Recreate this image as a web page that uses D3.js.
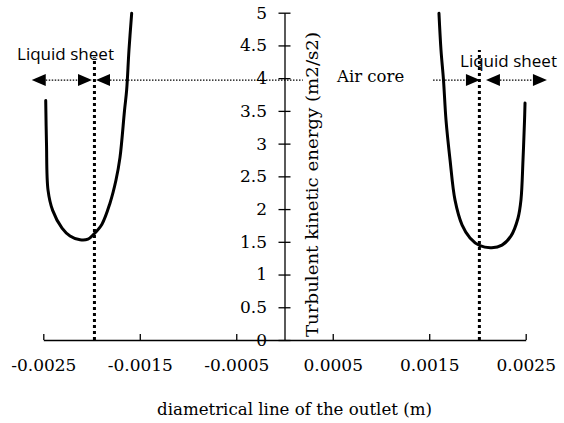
<!DOCTYPE html>
<html><head><meta charset="utf-8">
<script src="https://cdn.jsdelivr.net/npm/d3@7"></script>
<style>body{margin:0;background:#fff}svg{display:block}</style>
</head><body><div id="chart"></div>
<script>
const xTicks = [-0.0025, -0.0015, -0.0005, 0.0005, 0.0015, 0.0025];
const yTicks = [0, 0.5, 1, 1.5, 2, 2.5, 3, 3.5, 4, 4.5, 5];
const leftX = [-0.002475, -0.002467, -0.002451, -0.002403, -0.002306, -0.002223, -0.002119, -0.002037, -0.001975, -0.001892, -0.001809, -0.001747, -0.001705, -0.001658, -0.001636, -0.001612, -0.001584];
const leftY = [3.66, 3.01, 2.29, 1.98, 1.71, 1.59, 1.53, 1.54, 1.62, 1.77, 2.09, 2.44, 2.79, 3.51, 3.82, 4.43, 4.99];
const rightX = [0.001601, 0.001622, 0.001648, 0.001674, 0.001716, 0.001767, 0.001840, 0.001923, 0.002026, 0.002148, 0.002254, 0.002348, 0.002420, 0.002451, 0.002472, 0.002488, 0.002493];
const rightY = [4.99, 4.43, 3.97, 3.36, 2.75, 2.14, 1.76, 1.56, 1.44, 1.41, 1.45, 1.59, 1.86, 2.14, 2.75, 3.36, 3.62];
const wallX = [-0.00197, 0.00202];
const wallTop = [4.32, 4.43];
const arrowY = 3.97;
const arrowX1 = [-0.00262, -0.001954, 0.00154, 0.002088];
const arrowX2 = [-0.001995, 0.00019, 0.002026, 0.00272];
const arrowStart = [true, true, false, true];
const arrowEnd = [true, false, true, true];

const W = 564, H = 423;
const serif = "'DejaVu Serif', serif";
const sans = "'Open Sans', sans-serif";
const svg = d3.select("#chart").append("svg").attr("width", W).attr("height", H);
const x = d3.scaleLinear().domain([-0.0025, 0.0025]).range([43.3, 525.7]);
const y = d3.scaleLinear().domain([0, 5]).range([340, 12.7]);

// x axis
const gx = svg.append("g").attr("transform", `translate(0,${y(0)})`)
  .call(d3.axisBottom(x).tickValues(xTicks).tickFormat(d => d.toFixed(4))
    .tickSizeInner(-6).tickSizeOuter(0).tickPadding(19));
gx.selectAll("text").attr("font-family", serif).attr("font-size", 17).attr("fill", "#000");
gx.selectAll("line,path").attr("stroke", "#000").attr("stroke-width", 1.3);

// y axis
const gy = svg.append("g").attr("transform", `translate(${x(0)},0)`)
  .call(d3.axisLeft(y).tickValues(yTicks).tickFormat(d => String(d))
    .tickSizeInner(6).tickSizeOuter(0).tickPadding(11.5));
gy.selectAll(".tick line").attr("x1", 6).attr("x2", -6);
gy.selectAll("text").attr("font-family", serif).attr("font-size", 17).attr("fill", "#000");
gy.selectAll("line,path").attr("stroke", "#000").attr("stroke-width", 1.3);

// horizontal dotted arrows
const arrows = arrowX1.map((v, i) => ({x1: v, x2: arrowX2[i], s: arrowStart[i], e: arrowEnd[i]}));
const ag = svg.append("g");
arrows.forEach(a => {
  const X1 = x(a.x1), X2 = x(a.x2), Y = y(arrowY);
  const L = 14, Hh = 6;
  ag.append("line").attr("x1", a.s ? X1 + L : X1).attr("x2", a.e ? X2 - L : X2)
    .attr("y1", Y).attr("y2", Y).attr("stroke", "#000").attr("stroke-width", 1.2)
    .attr("stroke-dasharray", "1.5,1.5");
  if (a.s) ag.append("path").attr("d", `M${X1},${Y}L${X1 + L},${Y - Hh}L${X1 + L},${Y + Hh}Z`).attr("fill", "#000");
  if (a.e) ag.append("path").attr("d", `M${X2},${Y}L${X2 - L},${Y - Hh}L${X2 - L},${Y + Hh}Z`).attr("fill", "#000");
});

// vertical dotted walls
svg.append("g").selectAll("line").data(wallX).join("line")
  .attr("x1", d => x(d)).attr("x2", d => x(d))
  .attr("y1", y(0)).attr("y2", (d, i) => y(wallTop[i]))
  .attr("stroke", "#000").attr("stroke-width", 3).attr("stroke-dasharray", "3,3");

// curves
const line = d3.line().x(d => x(d[0])).y(d => y(d[1])).curve(d3.curveCatmullRom);
[[leftX, leftY], [rightX, rightY]].forEach(([xs, ys]) => {
  svg.append("path").datum(xs.map((v, i) => [v, ys[i]])).attr("d", line)
    .attr("fill", "none").attr("stroke", "#000").attr("stroke-width", 3)
    .attr("stroke-linejoin", "round").attr("stroke-linecap", "round");
});

// texts
svg.append("text").attr("x", 17).attr("y", 60).attr("font-family", sans).attr("font-size", 17)
  .attr("textLength", 97).attr("lengthAdjust", "spacingAndGlyphs").text("Liquid sheet");
svg.append("text").attr("x", 460).attr("y", 67).attr("font-family", sans).attr("font-size", 17)
  .attr("textLength", 97).attr("lengthAdjust", "spacingAndGlyphs").text("Liquid sheet");
svg.append("text").attr("x", 337).attr("y", 82).attr("font-family", serif).attr("font-size", 16.5).text("Air core");
svg.append("text").attr("transform", "translate(318,337) rotate(-90)").attr("font-family", serif)
  .attr("font-size", 17).attr("textLength", 305).attr("lengthAdjust", "spacingAndGlyphs")
  .text("Turbulent kinetic energy (m2/s2)");
svg.append("text").attr("x", 294.5).attr("y", 415).attr("text-anchor", "middle").attr("font-family", serif)
  .attr("font-size", 17).attr("textLength", 275).attr("lengthAdjust", "spacingAndGlyphs")
  .text("diametrical line of the outlet (m)");
</script></body></html>
